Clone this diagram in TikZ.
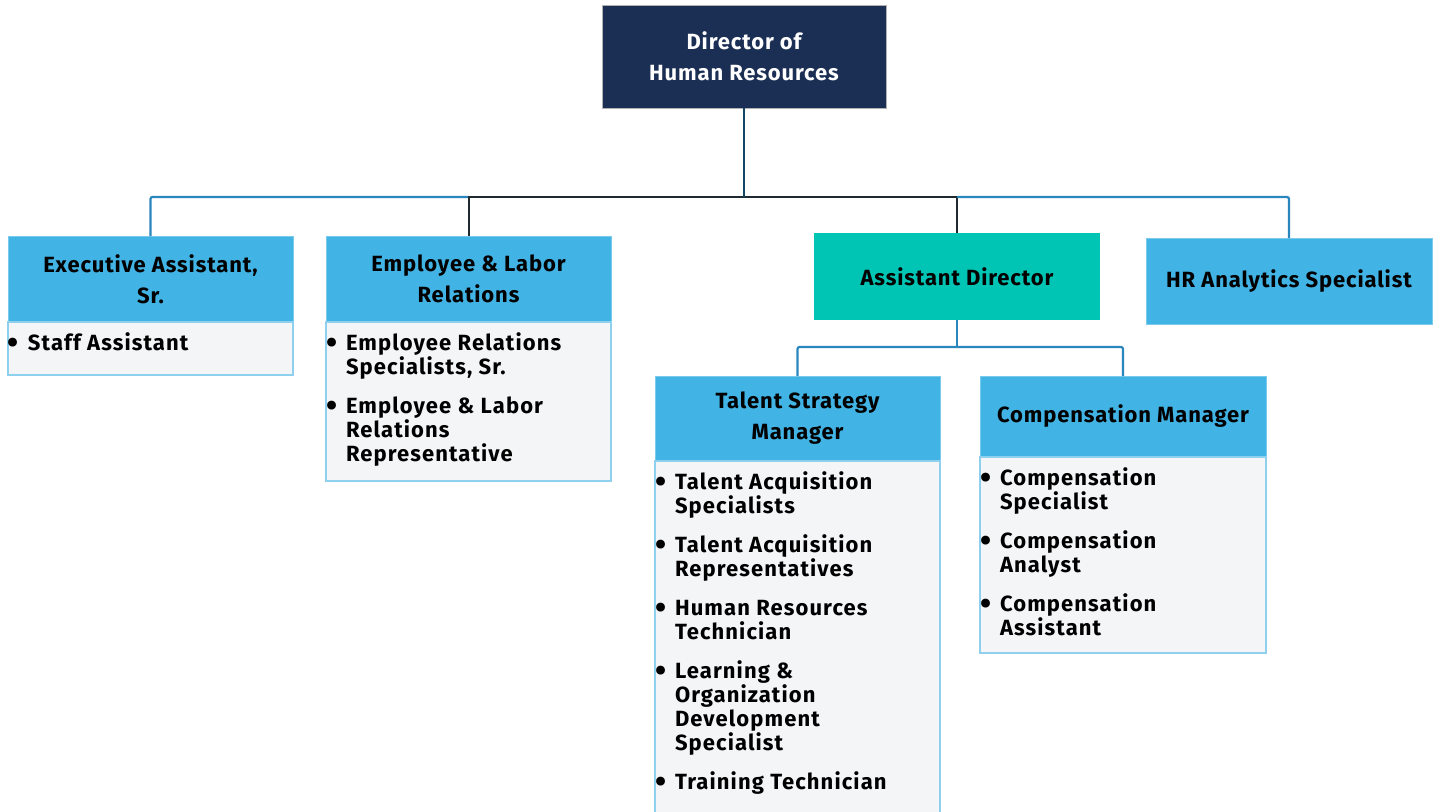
\documentclass[tikz,border=0pt]{standalone}
\usepackage{fontspec}
\setmainfont{Fira Sans}[LetterSpace=4]
\newfontfamily\listfont{Fira Sans}[LetterSpace=5]
\definecolor{navy}{HTML}{1B2E54}
\definecolor{hblue}{HTML}{41B3E4}
\definecolor{teal2}{HTML}{00C5B4}
\definecolor{bodyfill}{HTML}{F4F5F7}
\definecolor{bodyline}{HTML}{8FD0EF}
\definecolor{lineblue}{HTML}{2B86BD}
\definecolor{linedark}{HTML}{1E2A30}
\newcommand{\bul}{\makebox[19pt][l]{\hspace*{-1pt}\raisebox{-3pt}{\scalebox{1.45}{\textbullet}}}}
\newcommand{\ind}{\hspace*{19pt}}
\begin{document}
\begin{tikzpicture}[x=1pt,y=-1pt,
  every node/.style={inner sep=0pt, outer sep=0pt},
  hdr/.style={rectangle, fill=hblue, draw=hblue!70!white, line width=0.8pt, align=center, font=\fontsize{22}{31}\selectfont\bfseries, text=black},
  dirbox/.style={rectangle, fill=navy, draw=gray!60, line width=0.8pt, align=center, font=\fontsize{22}{31}\selectfont\bfseries, text=white},
  adbox/.style={rectangle, fill=teal2, align=center, font=\fontsize{22}{31}\selectfont\bfseries, text=black},
  bodybox/.style={rectangle, fill=bodyfill, draw=bodyline, line width=1.5pt, anchor=north},
  listtext/.style={anchor=north west, align=left, font=\listfont\fontsize{22}{24}\selectfont\bfseries, text=black},
  blueline/.style={draw=lineblue, line width=2.2pt, rounded corners=2pt},
  darkline/.style={draw=linedark, line width=2pt},
]
\useasboundingbox[fill=white] (0,0) rectangle (1437,811);

% top
\node[dirbox, minimum width=284, minimum height=103] (dir) at (744,56.5) {Director of\\Human Resources};

% level 2
\node[hdr, minimum width=285, minimum height=86] (exec) at (150.5,279) {Executive Assistant,\\Sr.};
\node[bodybox, minimum width=285, minimum height=53] (execb) at (exec.south) {};
\node[listtext] (execl) at (9,333) {\bul Staff Assistant};

\node[hdr, minimum width=285, minimum height=86] (emp) at (468.5,279) {Employee \& Labor\\Relations};
\node[bodybox, minimum width=285, minimum height=159] (empb) at (emp.south) {};
\node[listtext] (empl) at (327,333) {\bul Employee Relations\\\ind Specialists, Sr.\\[15pt]\bul Employee \& Labor\\\ind Relations\\\ind Representative};

\node[adbox, minimum width=286, minimum height=87] (ad) at (957,276.5) {Assistant Director};

\node[hdr, minimum width=286, minimum height=86] (hra) at (1289,281) {HR Analytics Specialist};

% level 3
\node[hdr, minimum width=285, minimum height=85] (tal) at (797.5,418.5) {Talent Strategy\\Manager};
\node[bodybox, minimum width=285, minimum height=360] (talb) at (tal.south) {};
\node[listtext] (tall) at (656,472) {\bul Talent Acquisition\\\ind Specialists\\[15pt]\bul Talent Acquisition\\\ind Representatives\\[15pt]\bul Human Resources\\\ind Technician\\[15pt]\bul Learning \&\\\ind Organization\\\ind Development\\\ind Specialist\\[15pt]\bul Training Technician};

\node[hdr, minimum width=286, minimum height=81] (comp) at (1123,416.5) {Compensation Manager};
\node[bodybox, minimum width=286, minimum height=196] (compb) at (comp.south) {};
\node[listtext] (compl) at (981,468) {\bul Compensation\\\ind Specialist\\[15pt]\bul Compensation\\\ind Analyst\\[15pt]\bul Compensation\\\ind Assistant};

% connectors
\coordinate (bus) at (744,197);
\coordinate (bus2) at (957,347);
\draw[blueline] (exec.north) |- (emp.north |- bus);
\draw[darkline] (emp.north) -- (emp.north |- bus) -- (ad.north |- bus) -- (ad.north);
\draw[blueline] (ad.north |- bus) -| (hra.north);
\draw[darkline, draw=navy!70!teal] (dir.south) -- (bus);
\draw[blueline] (ad.south) -- (bus2);
\draw[blueline] (tal.north) |- (bus2) -| (comp.north);
\end{tikzpicture}
\end{document}
